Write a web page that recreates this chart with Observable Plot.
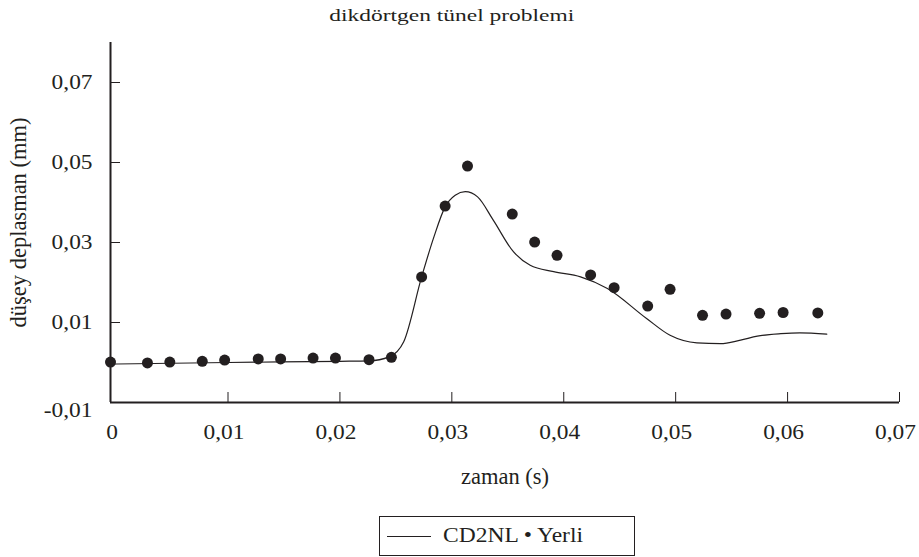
<!DOCTYPE html>
<html>
<head>
<meta charset="utf-8">
<script src="https://cdn.jsdelivr.net/npm/d3@7"></script>
<script src="https://cdn.jsdelivr.net/npm/@observablehq/plot@0.6"></script>
<style>
  html, body { margin: 0; padding: 0; background: #fff; }
  #wrap { position: relative; width: 919px; height: 557px; font-family: "Liberation Serif", "Times New Roman", serif; color: #231f20; }
  #title { position: absolute; top: 6px; left: 0; width: 903px; text-align: center; font-size: 17px; white-space: nowrap; }
  #title span { display: inline-block; transform-origin: center; }
  #chart { position: absolute; top: 0; left: 0; }
  #legend { position: absolute; left: 379px; top: 516px; width: 254px; height: 38px; border: 1px solid #231f20; }
  #legend svg { position: absolute; left: 7px; top: 18px; }
  #legend span { position: absolute; left: 63px; top: 7px; font-size: 20px; white-space: nowrap; transform-origin: left center; display: inline-block; }
</style>
</head>
<body>
<div id="wrap">
  <div id="chart"></div>
  <div id="title"><span>dikdörtgen tünel problemi</span></div>
  <div id="legend"><svg width="44" height="3"><line x1="0" y1="1.5" x2="44" y2="1.5" stroke="#231f20" stroke-width="1.2"/></svg><span>CD2NL • Yerli</span></div>
</div>
<script>
// ---- data ----
const xTicks = [0, 0.01, 0.02, 0.03, 0.04, 0.05, 0.06, 0.07];
const yTicks = [-0.01, 0.01, 0.03, 0.05, 0.07];
const xLabel = "zaman (s)";
const yLabel = "düşey deplasman (mm)";
const seriesLine = "CD2NL";
const seriesDots = "Yerli";

// CD2NL (line)
const lineX = [-0.0005, 0.01, 0.02, 0.0226, 0.0244, 0.0257, 0.0273, 0.0284, 0.0294, 0.0303, 0.0312, 0.0323, 0.0337, 0.0355, 0.0370, 0.0391, 0.0415, 0.0439, 0.0474, 0.0495, 0.0519, 0.0540, 0.0558, 0.0573, 0.0594, 0.0611, 0.0635];
const lineY = [-0.0004, 0.0000, 0.0003, 0.0004, 0.0014, 0.0052, 0.0214, 0.0314, 0.0389, 0.0418, 0.0427, 0.0414, 0.0356, 0.0277, 0.0243, 0.0227, 0.0214, 0.0185, 0.0110, 0.0068, 0.0049, 0.0047, 0.0056, 0.0066, 0.0072, 0.0074, 0.0071];

// Yerli (dots)
const dotX = [-0.0005, 0.0028, 0.0048, 0.0077, 0.0097, 0.0127, 0.0147, 0.0176, 0.0196, 0.0226, 0.0246, 0.0273, 0.0294, 0.0314, 0.0354, 0.0374, 0.0394, 0.0424, 0.0445, 0.0475, 0.0495, 0.0524, 0.0545, 0.0575, 0.0596, 0.0627];
const dotY = [0.0001, -0.0001, 0.0001, 0.0003, 0.0006, 0.0009, 0.0009, 0.0011, 0.0011, 0.0007, 0.0013, 0.0214, 0.0391, 0.0491, 0.0371, 0.0301, 0.0268, 0.0219, 0.0187, 0.0141, 0.0183, 0.0118, 0.0121, 0.0123, 0.0125, 0.0124];

const xDomain = [-0.0005, 0.07];
const yDomain = [-0.01, 0.08];

// ---- build tables ----
const lineData = lineX.map((x, i) => ({x, y: lineY[i]}));
const dotData = dotX.map((x, i) => ({x, y: dotY[i]}));
const fmt = d => d === 0 ? "0" : d.toFixed(2).replace(".", ",");
const ink = "#231f20";

const svg = Plot.plot({
  width: 919,
  height: 505,
  marginLeft: 110,
  marginRight: 20,
  marginTop: 42,
  marginBottom: 103,
  style: {fontFamily: "'Liberation Serif', 'Times New Roman', serif", fontSize: "20px", color: ink, background: "transparent"},
  x: {domain: xDomain},
  y: {domain: yDomain},
  marks: [
    Plot.axisX(xTicks.filter(t => t > 0), {tickSize: -10, fill: "none", stroke: ink, strokeWidth: 1, label: null}),
    Plot.axisX(xTicks, {tickSize: 0, tickPadding: 22, dx: -4, tickFormat: fmt, fill: ink, label: null, fontSize: 20}),
    Plot.axisY(yTicks.filter(t => t > -0.01), {tickSize: -10, fill: "none", stroke: ink, strokeWidth: 1, label: null}),
    Plot.axisY(yTicks.filter(t => t > -0.01), {tickSize: 0, tickPadding: 18, tickFormat: fmt, fill: ink, label: null, fontSize: 20}),
    Plot.axisY(yTicks.filter(t => t === -0.01), {tickSize: 0, tickPadding: 18, dy: 8, tickFormat: fmt, fill: ink, label: null, fontSize: 20}),
    Plot.ruleY([yDomain[0]], {stroke: ink, strokeWidth: 2}),
    Plot.ruleX([xDomain[0]], {stroke: ink, strokeWidth: 2}),
    Plot.line(lineData, {x: "x", y: "y", curve: "monotone-x", stroke: ink, strokeWidth: 1.2}),
    Plot.dot(dotData, {x: "x", y: "y", r: 5.5, fill: ink, stroke: "none"}),
    Plot.text([xLabel], {frameAnchor: "bottom", textAnchor: "middle", lineAnchor: "middle", dy: 74, fontSize: 22.5, fill: ink}),
    Plot.text([yLabel], {frameAnchor: "left", textAnchor: "middle", lineAnchor: "middle", dx: -92, rotate: -90, fontSize: 22.5, fill: ink})
  ]
});
document.getElementById("chart").append(svg);

// widen the tick labels slightly to match the wide face of the reference
function stretch(el, f) {
  const L = el.getComputedTextLength();
  el.setAttribute("textLength", (L * f).toFixed(1));
  el.setAttribute("lengthAdjust", "spacingAndGlyphs");
}
svg.querySelectorAll("g[aria-label='x-axis tick label'] text, g[aria-label='y-axis tick label'] text").forEach(t => stretch(t, 1.17));

function fitSpan(el, target) {
  const w = el.getBoundingClientRect().width;
  el.style.transform = `scaleX(${target / w})`;
}
fitSpan(document.querySelector("#title span"), 245);
fitSpan(document.querySelector("#legend span"), 140);
</script>
</body>
</html>
